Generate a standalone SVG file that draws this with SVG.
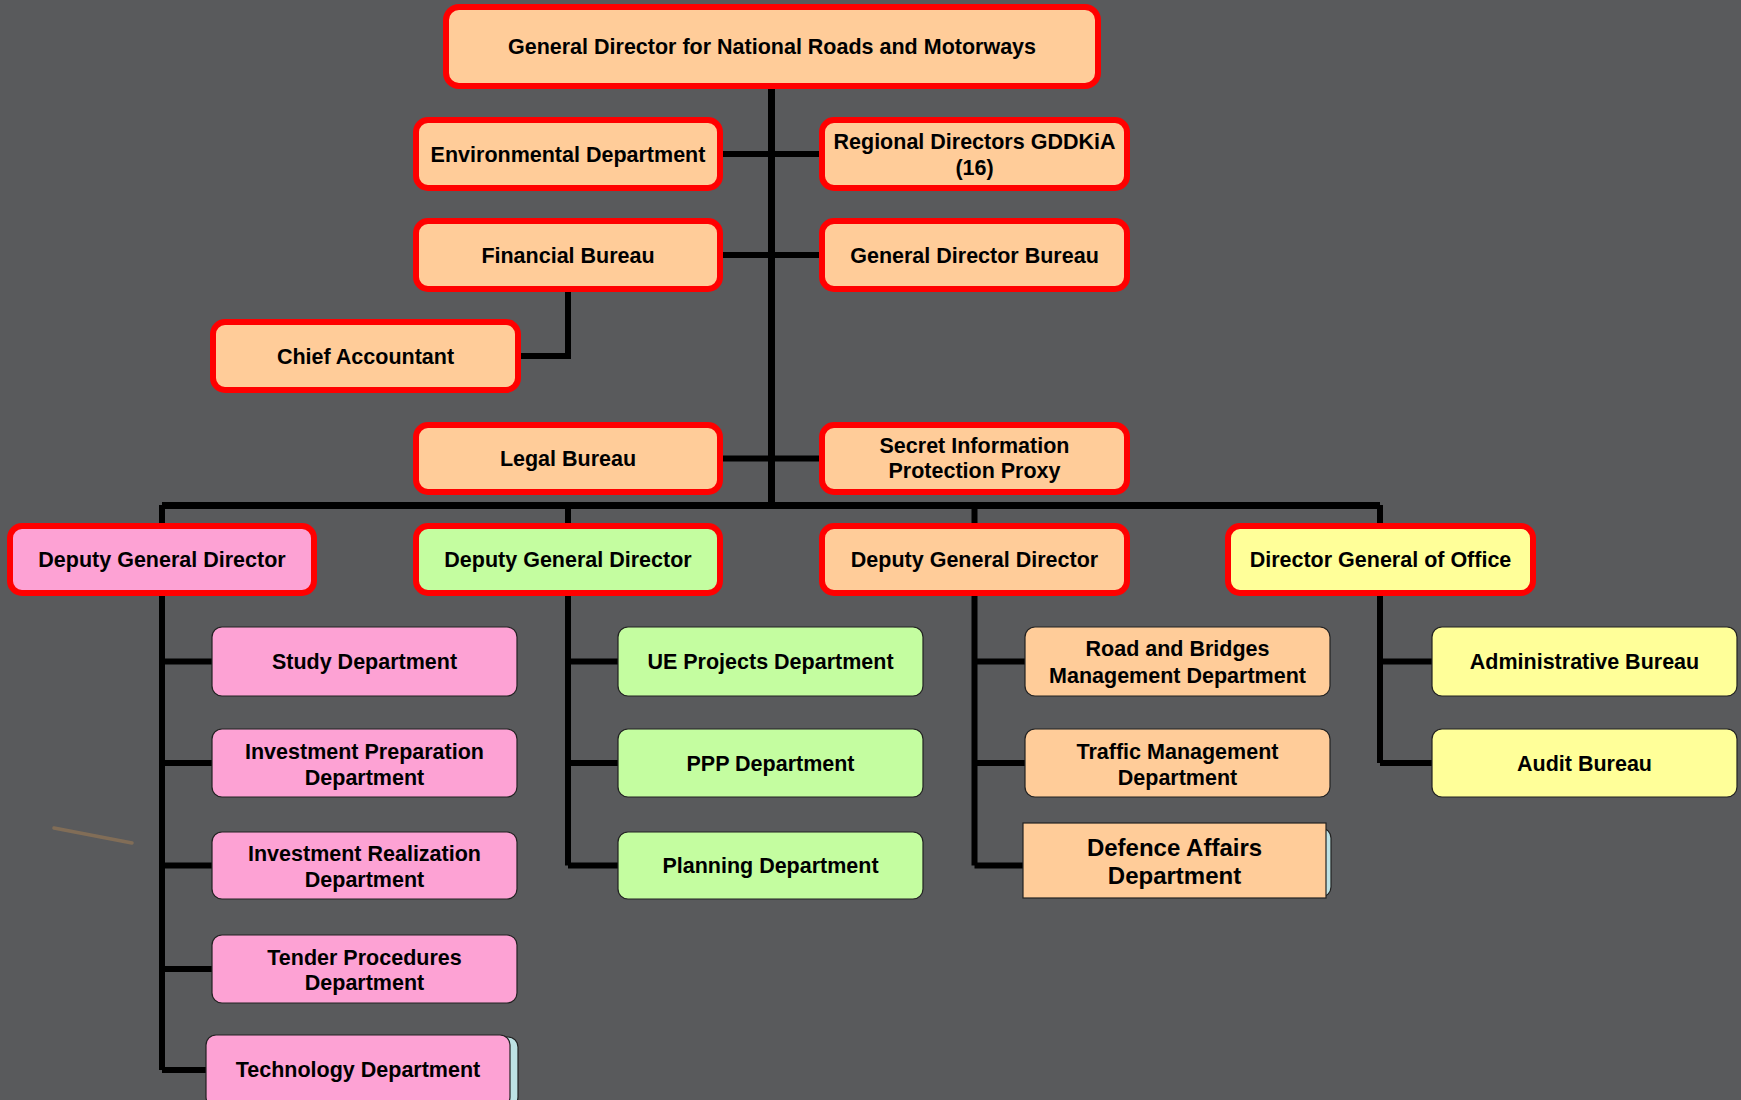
<svg xmlns="http://www.w3.org/2000/svg" width="1741" height="1100" viewBox="0 0 1741 1100">
<style>
.bg{fill:#595a5c}
.red{stroke:#ff0000;stroke-width:6}
.sub{stroke:#222222;stroke-width:1.2}
.or{fill:#ffcc99}
.pk{fill:#fda2d4}
.gr{fill:#c4fda0}
.ye{fill:#ffff99}
.sh{fill:#bde2e4;stroke:#222222;stroke-width:1.2}
text{font-family:"Liberation Sans",Arial,sans-serif;font-weight:bold;font-size:21.5px;fill:#000;text-anchor:middle}
.big{font-size:24px}
.ln{stroke:#000;stroke-width:6;fill:none}
.tr{stroke:#000;stroke-width:7;fill:none}
</style>
<rect class="bg" x="0" y="0" width="1741" height="1100"/>
<path d="M54,828 L132,843" stroke="#9c7b55" stroke-width="3.5" stroke-linecap="round" opacity="0.6"/>
<g id="connectors">
<path class="tr" d="M771.5,86 V505.5"/>
<path class="ln" d="M720,154 H822 M720,255 H822 M720,458.5 H822"/>
<path class="ln" d="M568,289 V356 H518"/>
<path class="tr" d="M162,505.5 H1380"/>
<path class="ln" d="M162,505 V526 M568,505 V526 M974.5,505 V526 M1380,505 V526"/>
<path class="ln" d="M162,593 V1070 M162,661.5 H212 M162,763 H212 M162,865.5 H212 M162,969 H212 M162,1070 H206"/>
<path class="ln" d="M568,593 V865.5 M568,661.5 H618 M568,763 H618 M568,865.5 H618"/>
<path class="ln" d="M974.5,593 V865.5 M974.5,661.5 H1025 M974.5,763 H1025 M974.5,865.5 H1023"/>
<path class="ln" d="M1380,593 V763 M1380,661.5 H1432 M1380,763 H1432"/>
</g>
<g id="n-top"><rect class="or red" x="446" y="7" width="652" height="79" rx="13"/><text x="772" y="54">General Director for National Roads and Motorways</text></g>
<g id="n-env"><rect class="or red" x="416" y="120" width="304" height="68" rx="12"/><text x="568" y="161.5">Environmental Department</text></g>
<g id="n-regional"><rect class="or red" x="822" y="120" width="305" height="68" rx="12"/><text x="974.5" y="148.5">Regional Directors GDDKiA</text><text x="974.5" y="175">(16)</text></g>
<g id="n-fin"><rect class="or red" x="416" y="221" width="304" height="68" rx="12"/><text x="568" y="262.5">Financial Bureau</text></g>
<g id="n-gdb"><rect class="or red" x="822" y="221" width="305" height="68" rx="12"/><text x="974.5" y="262.5">General Director Bureau</text></g>
<g id="n-chief"><rect class="or red" x="213" y="322" width="305" height="68" rx="12"/><text x="365.5" y="363.5">Chief Accountant</text></g>
<g id="n-legal"><rect class="or red" x="416" y="425" width="304" height="67" rx="12"/><text x="568" y="466">Legal Bureau</text></g>
<g id="n-secret"><rect class="or red" x="822" y="425" width="305" height="67" rx="12"/><text x="974.5" y="452.7">Secret Information</text><text x="974.5" y="478.3">Protection Proxy</text></g>
<g id="n-dgd1"><rect class="pk red" x="10" y="526" width="304" height="67" rx="12"/><text x="162" y="567">Deputy General Director</text></g>
<g id="n-dgd2"><rect class="gr red" x="416" y="526" width="304" height="67" rx="12"/><text x="568" y="567">Deputy General Director</text></g>
<g id="n-dgd3"><rect class="or red" x="822" y="526" width="305" height="67" rx="12"/><text x="974.5" y="567">Deputy General Director</text></g>
<g id="n-dgo"><rect class="ye red" x="1228" y="526" width="305" height="67" rx="12"/><text x="1380.5" y="567">Director General of Office</text></g>
<g id="n-study"><rect class="pk sub" x="212" y="627" width="305" height="69" rx="10"/><text x="364.5" y="669">Study Department</text></g>
<g id="n-invprep"><rect class="pk sub" x="212" y="729" width="305" height="68" rx="10"/><text x="364.5" y="759">Investment Preparation</text><text x="364.5" y="784.5">Department</text></g>
<g id="n-invreal"><rect class="pk sub" x="212" y="832" width="305" height="67" rx="10"/><text x="364.5" y="861">Investment Realization</text><text x="364.5" y="887">Department</text></g>
<g id="n-tender"><rect class="pk sub" x="212" y="935" width="305" height="68" rx="10"/><text x="364.5" y="964.5">Tender Procedures</text><text x="364.5" y="990">Department</text></g>
<g id="n-tech"><rect class="sh" x="212" y="1037" width="306" height="70" rx="10"/><rect class="pk sub" x="206" y="1035" width="304" height="72" rx="10"/><text x="358" y="1076.5">Technology Department</text></g>
<g id="n-ue"><rect class="gr sub" x="618" y="627" width="305" height="69" rx="10"/><text x="770.5" y="669">UE Projects Department</text></g>
<g id="n-ppp"><rect class="gr sub" x="618" y="729" width="305" height="68" rx="10"/><text x="770.5" y="770.5">PPP Department</text></g>
<g id="n-plan"><rect class="gr sub" x="618" y="832" width="305" height="67" rx="10"/><text x="770.5" y="873">Planning Department</text></g>
<g id="n-road"><rect class="or sub" x="1025" y="627" width="305" height="69" rx="10"/><text x="1177.5" y="656">Road and Bridges</text><text x="1177.5" y="682.5">Management Department</text></g>
<g id="n-traffic"><rect class="or sub" x="1025" y="729" width="305" height="68" rx="10"/><text x="1177.5" y="759">Traffic Management</text><text x="1177.5" y="784.5">Department</text></g>
<g id="n-defence"><rect class="sh" x="1025" y="828" width="306" height="69" rx="10"/><rect class="or sub" x="1023" y="823" width="303" height="75"/><text class="big" x="1174.5" y="855.6">Defence Affairs</text><text class="big" x="1174.5" y="884.4">Department</text></g>
<g id="n-admin"><rect class="ye sub" x="1432" y="627" width="305" height="69" rx="10"/><text x="1584.5" y="669">Administrative Bureau</text></g>
<g id="n-audit"><rect class="ye sub" x="1432" y="729" width="305" height="68" rx="10"/><text x="1584.5" y="770.5">Audit Bureau</text></g>
</svg>
